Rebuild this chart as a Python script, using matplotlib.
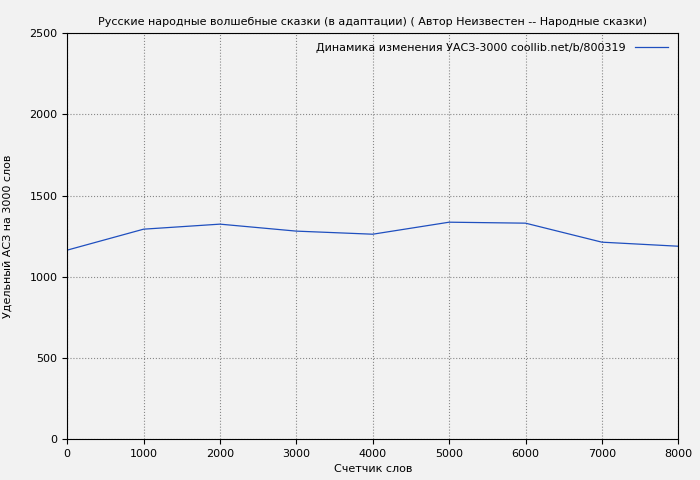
import matplotlib.pyplot as plt

words = [0, 1000, 2000, 3000, 4000, 5000, 6000, 7000, 8000]
uasz = [1164, 1293, 1324, 1281, 1262, 1336, 1330, 1213, 1188]

plt.rcParams['font.family'] = ['DejaVu Sans']
plt.rcParams['font.size'] = 8

fig = plt.figure(figsize=(7, 4.8), dpi=100, facecolor='#f2f2f2')
ax = fig.add_axes([0.096, 0.085, 0.873, 0.846])
ax.set_facecolor('#f2f2f2')
ax.plot(words, uasz, color='#1f4fbf', linewidth=0.9,
        label='Динамика изменения УАСЗ-3000 coollib.net/b/800319')
ax.set_xlim(0, 8000)
ax.set_ylim(0, 2500)
ax.set_xticks(range(0, 8001, 1000))
ax.set_yticks(range(0, 2501, 500))
ax.grid(True, color='#888888', linestyle=':', linewidth=0.8)
ax.set_title('Русские народные волшебные сказки (в адаптации) ( Автор Неизвестен -- Народные сказки)', fontsize=8)
ax.set_xlabel('Счетчик слов')
ax.set_ylabel('Удельный АСЗ на 3000 слов', labelpad=12)
leg = ax.legend(loc='upper right', frameon=False, markerfirst=False, handlelength=3)
fig.savefig('out.png', facecolor=fig.get_facecolor())
